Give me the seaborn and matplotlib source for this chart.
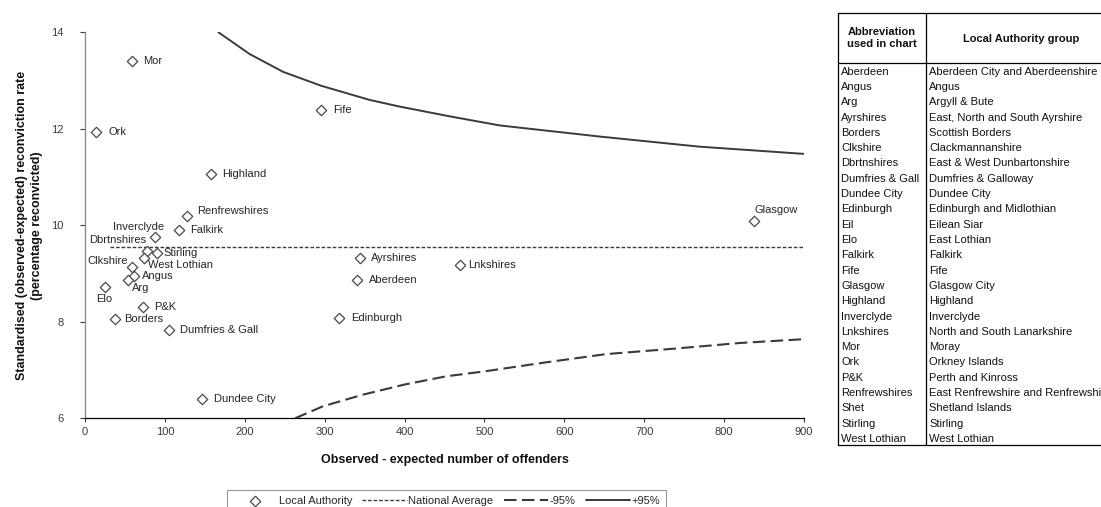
import matplotlib
matplotlib.use("Agg")
import matplotlib.pyplot as plt
import seaborn as sns
import pandas as pd

# ---------------- data ----------------
abbr = ["Mor", "Ork", "Fife", "Highland", "Renfrewshires", "Falkirk", "Inverclyde",
        "Dbrtnshires", "Stirling", "West Lothian", "Clkshire", "Angus", "Arg", "Elo",
        "P&K", "Borders", "Dumfries & Gall", "Dundee City", "Ayrshires", "Aberdeen",
        "Edinburgh", "Lnkshires", "Glasgow"]
obs_minus_exp = [59, 14, 295, 158, 128, 118, 87, 77, 90, 74, 59, 61, 54, 25, 73, 37,
                 105, 146, 344, 340, 318, 469, 838]
rate = [13.40, 11.94, 12.38, 11.06, 10.20, 9.91, 9.76, 9.46, 9.42, 9.32, 9.13, 8.94,
        8.86, 8.73, 8.30, 8.06, 7.82, 6.40, 9.33, 8.86, 8.08, 9.17, 10.09]

nat_x = [31, 900]
nat_y = [9.56, 9.56]

upper_x = [167, 206, 248, 296, 356, 394, 456, 519, 644, 769, 900]
upper_y = [14.00, 13.55, 13.18, 12.89, 12.60, 12.46, 12.26, 12.07, 11.84, 11.63, 11.48]

lower_x = [263, 298, 348, 400, 452, 499, 573, 652, 735, 819, 900]
lower_y = [6.00, 6.25, 6.49, 6.70, 6.87, 6.97, 7.15, 7.33, 7.44, 7.56, 7.64]

x_ticks = [0, 100, 200, 300, 400, 500, 600, 700, 800, 900]
y_ticks = [6, 8, 10, 12, 14]

table_abbr = ["Aberdeen", "Angus", "Arg", "Ayrshires", "Borders", "Clkshire",
              "Dbrtnshires", "Dumfries & Gall", "Dundee City", "Edinburgh", "Eil", "Elo",
              "Falkirk", "Fife", "Glasgow", "Highland", "Inverclyde", "Lnkshires", "Mor",
              "Ork", "P&K", "Renfrewshires", "Shet", "Stirling", "West Lothian"]
table_group = ["Aberdeen City and Aberdeenshire", "Angus", "Argyll & Bute",
               "East, North and South Ayrshire", "Scottish Borders", "Clackmannanshire",
               "East & West Dunbartonshire", "Dumfries & Galloway", "Dundee City",
               "Edinburgh and Midlothian", "Eilean Siar", "East Lothian", "Falkirk", "Fife",
               "Glasgow City", "Highland", "Inverclyde", "North and South Lanarkshire",
               "Moray", "Orkney Islands", "Perth and Kinross",
               "East Renfrewshire and Renfrewshire", "Shetland Islands", "Stirling",
               "West Lothian"]

# ---------------- label layout (pixel offsets, style only) ----------------
label_layout = {
    "Mor": (11, 0, "left"), "Ork": (12, 0, "left"), "Fife": (12, 0, "left"),
    "Highland": (11, 0, "left"), "Renfrewshires": (10, 5, "left"),
    "Falkirk": (11, 0, "left"), "Inverclyde": (10, 10, "right"),
    "Dbrtnshires": (0, 11, "right"), "Stirling": (7, 0, "left"),
    "West Lothian": (4, -7, "left"), "Clkshire": (-4, 6, "right"),
    "Angus": (8, 0, "left"), "Arg": (4, -8, "left"), "Elo": (-1, -12, "center"),
    "P&K": (11, 0, "left"), "Borders": (10, 0, "left"),
    "Dumfries & Gall": (11, 0, "left"), "Dundee City": (12, 0, "left"),
    "Ayrshires": (11, 0, "left"), "Aberdeen": (12, 0, "left"),
    "Edinburgh": (12, 0, "left"), "Lnkshires": (8, 0, "left"),
    "Glasgow": (0, 11, "left"),
}

sns.set_style("white")
plt.rcParams["font.family"] = ["Liberation Sans", "DejaVu Sans"]

W, H = 1101, 507
fig = plt.figure(figsize=(W / 100, H / 100), dpi=100)
ax = fig.add_axes([85 / W, 1 - 418.3 / H, (804 - 85) / W, (418.3 - 32.3) / H])

df = pd.DataFrame({"x": obs_minus_exp, "y": rate, "name": abbr})
line_col = "#3a3a3a"

sns.scatterplot(data=df, x="x", y="y", marker="D", s=28, facecolor="white",
                edgecolor="#4a4a4a", linewidth=0.9, ax=ax, label="Local Authority",
                zorder=3)
sns.lineplot(x=nat_x, y=nat_y, ax=ax, color=line_col, linewidth=1.0,
             linestyle=(0, (2.6, 1.4)), label="National Average", errorbar=None)
sns.lineplot(x=lower_x, y=lower_y, ax=ax, color=line_col, linewidth=1.5,
             linestyle=(0, (6.0, 2.6)), label="-95%", errorbar=None)
sns.lineplot(x=upper_x, y=upper_y, ax=ax, color=line_col, linewidth=1.4,
             linestyle="-", label="+95%", errorbar=None)

for name, xv, yv in zip(abbr, obs_minus_exp, rate):
    dx, dy, ha = label_layout[name]
    ax.annotate(name, (xv, yv), xytext=(dx, dy), textcoords="offset pixels",
                ha=ha, va="center", fontsize=8, color="#262626")

ax.set_xlim(0, 900)
ax.set_ylim(6, 14)
ax.set_xticks(x_ticks)
ax.set_yticks(y_ticks)
ax.tick_params(axis="y", direction="out", length=3.6, width=0.8, pad=12,
               colors="#3a3a3a", labelsize=8, left=True)
ax.tick_params(axis="x", direction="out", length=3, width=0.8, pad=3.5,
               colors="#3a3a3a", labelsize=8, bottom=True)
for s in ["top", "right"]:
    ax.spines[s].set_visible(False)
ax.spines["left"].set_color("#888888")
ax.spines["left"].set_linewidth(0.9)
ax.spines["bottom"].set_color("#000000")
ax.spines["bottom"].set_linewidth(0.9)

ax.set_xlabel("Observed - expected number of offenders", fontsize=9,
              fontweight="bold", color="#111111")
ax.set_ylabel("Standardised (observed-expected) reconviction rate\n(percentage reconvicted)",
              fontsize=9, fontweight="bold", color="#111111", linespacing=1.4)
ax.xaxis.set_label_coords(0.5, -0.092)
ax.yaxis.set_label_coords(-0.058, 0.5)

handles, labels = ax.get_legend_handles_labels()
if ax.get_legend() is not None:
    ax.get_legend().remove()
order = ["Local Authority", "National Average", "-95%", "+95%"]
hmap = dict(zip(labels, handles))
leg = fig.legend([hmap[l] for l in order], order, loc="upper center",
                 bbox_to_anchor=(446.5 / W, 1 - 484.5 / H), ncol=4, frameon=True,
                 fancybox=False, edgecolor="#7f7f7f", fontsize=8, handlelength=4.0,
                 handletextpad=0.15, columnspacing=0.9, borderpad=0.5, scatterpoints=1)
leg.get_frame().set_linewidth(0.8)
for t in leg.get_texts():
    t.set_color("#262626")

# ---------------- abbreviation table ----------------
axt = fig.add_axes([0, 0, 1, 1])
axt.set_xlim(0, W)
axt.set_ylim(H, 0)
axt.axis("off")
axt.patch.set_visible(False)

left, mid, right = 838, 926, 1130
top, head_bot, bottom = 12.5, 62.5, 444.5
lc = "#000000"
for xv in (left, mid):
    axt.plot([xv, xv], [top, bottom], color=lc, lw=0.9)
for yv in (top, head_bot, bottom):
    axt.plot([left, right], [yv, yv], color=lc, lw=0.9)

axt.text((left + mid) / 2, 38, "Abbreviation\nused in chart", ha="center", va="center",
         fontsize=8, fontweight="bold", color="#111111", linespacing=1.35)
axt.text(1021, 38.7, "Local Authority group", ha="center", va="center",
         fontsize=8, fontweight="bold", color="#111111")

row0, rstep = 71.7, 15.3
for i, (a, g) in enumerate(zip(table_abbr, table_group)):
    yv = row0 + i * rstep
    axt.text(841, yv, a, ha="left", va="center", fontsize=8, color="#111111")
    axt.text(929, yv, g, ha="left", va="center", fontsize=8, color="#111111")

fig.savefig("out.png", dpi=100)
